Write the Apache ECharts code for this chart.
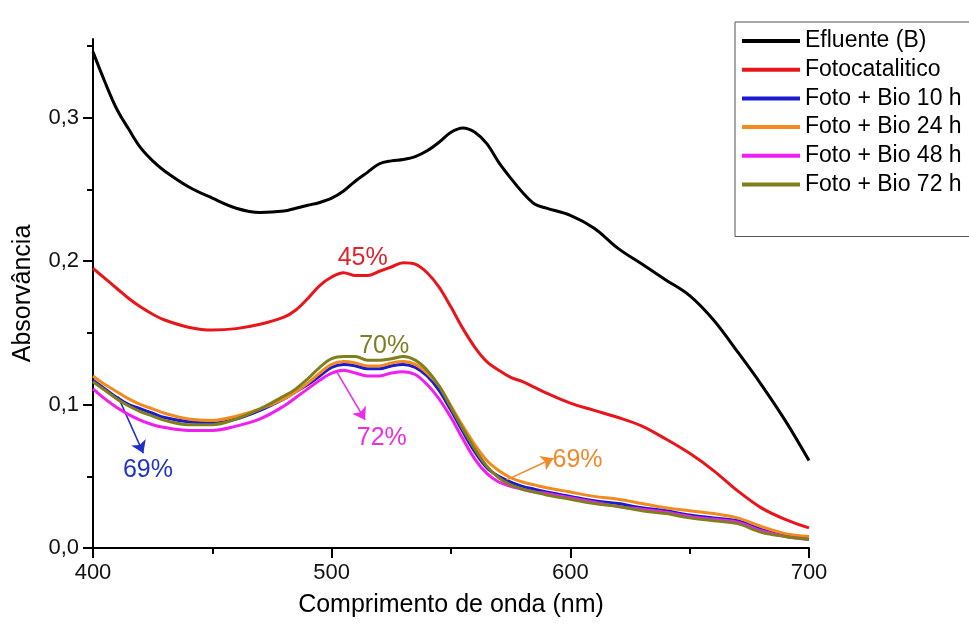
<!DOCTYPE html>
<html><head><meta charset="utf-8">
<script src="https://cdn.jsdelivr.net/npm/echarts@6/dist/echarts.min.js"></script>
<style>html,body{margin:0;padding:0;background:#fff}#c{width:969px;height:625px}</style>
</head><body><div id="c"></div>
<script>
// wavelength (nm)
const wavelengths = [400,405,410,415,420,425,430,440,450,460,470,480,485,490,495,500,505,510,515,520,525,530,535,540,545,550,555,560,565,570,575,580,585,590,600,610,620,630,640,650,660,670,680,690,700];
const efluente = [0.346,0.325,0.306,0.292,0.279,0.270,0.263,0.252,0.244,0.237,0.234,0.235,0.237,0.239,0.241,0.244,0.249,0.256,0.262,0.268,0.270,0.271,0.273,0.277,0.283,0.290,0.293,0.290,0.282,0.269,0.258,0.248,0.240,0.237,0.232,0.223,0.209,0.198,0.187,0.176,0.159,0.137,0.114,0.089,0.061];
const fotocatalitico = [0.195,0.188,0.181,0.174,0.168,0.163,0.159,0.154,0.152,0.153,0.156,0.161,0.166,0.174,0.183,0.189,0.192,0.190,0.190,0.193,0.196,0.199,0.198,0.192,0.182,0.168,0.153,0.140,0.130,0.124,0.119,0.116,0.112,0.108,0.101,0.096,0.091,0.085,0.076,0.066,0.054,0.040,0.028,0.020,0.014];
const bio10 = [0.117,0.111,0.105,0.100,0.097,0.094,0.091,0.088,0.087,0.090,0.096,0.104,0.109,0.114,0.120,0.126,0.128,0.127,0.125,0.125,0.127,0.128,0.126,0.120,0.110,0.096,0.081,0.067,0.056,0.050,0.046,0.043,0.041,0.039,0.036,0.033,0.031,0.028,0.026,0.023,0.021,0.019,0.013,0.009,0.007];
const bio24 = [0.120,0.114,0.109,0.104,0.100,0.097,0.094,0.090,0.089,0.092,0.097,0.104,0.109,0.115,0.122,0.128,0.130,0.129,0.127,0.127,0.129,0.130,0.128,0.122,0.113,0.099,0.085,0.072,0.061,0.054,0.049,0.046,0.044,0.042,0.039,0.036,0.034,0.031,0.028,0.026,0.024,0.021,0.015,0.010,0.008];
const bio48 = [0.111,0.104,0.098,0.093,0.089,0.086,0.084,0.082,0.082,0.085,0.090,0.099,0.105,0.111,0.117,0.122,0.124,0.122,0.120,0.120,0.122,0.123,0.121,0.114,0.104,0.091,0.076,0.062,0.052,0.046,0.043,0.041,0.039,0.038,0.035,0.032,0.029,0.027,0.025,0.022,0.020,0.018,0.012,0.008,0.006];
const bio72 = [0.116,0.110,0.104,0.099,0.095,0.092,0.089,0.086,0.086,0.090,0.097,0.106,0.111,0.118,0.126,0.132,0.1335,0.1335,0.131,0.131,0.132,0.1335,0.131,0.124,0.113,0.098,0.083,0.069,0.057,0.049,0.044,0.041,0.039,0.037,0.034,0.031,0.029,0.026,0.024,0.021,0.019,0.017,0.011,0.008,0.006];

const seriesNames = ['Efluente (B)','Fotocatalitico','Foto + Bio 10 h','Foto + Bio 24 h','Foto + Bio 48 h','Foto + Bio 72 h'];
const xTicks = [400,500,600,700];
const yTicks = [0,0.1,0.2,0.3];
const yMinorTicks = [0.05,0.15,0.25,0.35];

// annotations (data units)
const noteTexts = ['45%','70%','72%','69%','69%'];
const notePoints = [[513,0.2024],[522,0.141],[521,0.0768],[423,0.0544],[603,0.0614]];
const arrowBlue = [[410.5,0.1056],[421.1,0.0661]];
const arrowMagenta = [[502.1,0.123],[514,0.0893]];
const arrowOrange = [[573.3,0.0475],[592.9,0.0626]];

const colors = ['#000000','#e8161b','#1a1ad2','#f28a1e','#f01ef0','#7f7f1d'];
const FONT = 'Liberation Sans, Arial, sans-serif';

function pairs(arr){ return wavelengths.map((w,i)=>[w,arr[i]]); }
function notes(list){
  return {symbol:'circle',symbolSize:0,silent:true,
    data:list.map(([i,color])=>({coord:notePoints[i],
      label:{show:true,position:'inside',formatter:noteTexts[i],color:color,fontSize:25,fontFamily:FONT}}))};
}
function arrow(a,color){
  return {silent:true,symbol:['none','arrow'],symbolSize:12,
    lineStyle:{color:color,width:1.6,type:'solid'},label:{show:false},
    emphasis:{disabled:true},
    data:[[{coord:a[0]},{coord:a[1]}]]};
}
const datasets = [efluente,fotocatalitico,bio10,bio24,bio48,bio72];
const series = datasets.map((d,i)=>({
  name:seriesNames[i], type:'line', data:pairs(d), showSymbol:false, symbol:'none',
  smooth:0.35, lineStyle:{width:3,color:colors[i]}, itemStyle:{color:colors[i]},
  z: 2+i
}));
series[1].markPoint = notes([[0,'#e2212a']]);
series[2].markLine = arrow(arrowBlue,'#1f2fc8');
series[2].markPoint = notes([[3,'#2233c8']]);
series[3].markLine = arrow(arrowOrange,'#f0892a');
series[3].markPoint = notes([[4,'#f0892a']]);
series[4].markLine = arrow(arrowMagenta,'#ea2ee6');
series[4].markPoint = notes([[2,'#ea2ee6']]);
series[5].markPoint = notes([[1,'#7d7d22']]);

const chart = echarts.init(document.getElementById('c'),null,{renderer:'canvas'});
chart.setOption({
  animation:false,
  backgroundColor:'#fff',
  grid:{left:93,right:160,top:39,bottom:77,containLabel:false,outerBoundsMode:'none'},
  legend:{
    orient:'vertical', left:735, top:22,
    data:seriesNames, icon:'rect', itemWidth:58, itemHeight:4, itemGap:4.7,
    padding:[7,60,40,7], borderColor:'#555', borderWidth:1,
    textStyle:{fontSize:23,color:'#000',fontFamily:FONT,lineHeight:24},
    selectedMode:false
  },
  xAxis:{
    type:'value', min:400, max:700, interval:100,
    name:'Comprimento de onda (nm)', nameLocation:'middle', nameGap:45,
    nameTextStyle:{fontSize:25,color:'#000',fontFamily:FONT},
    axisLine:{show:true,onZero:false,lineStyle:{color:'#000',width:2}},
    axisTick:{show:true,length:10,lineStyle:{color:'#000',width:2},customValues:xTicks},
    minorTick:{show:true,splitNumber:2,length:6,lineStyle:{color:'#000',width:2}},
    axisLabel:{fontSize:22,color:'#111',fontFamily:FONT,margin:14,customValues:xTicks},
    splitLine:{show:false}
  },
  yAxis:[{
    type:'value', min:0, max:0.355, position:'left',
    name:'Absorvância', nameLocation:'middle', nameGap:57,
    nameTextStyle:{fontSize:25,color:'#000',fontFamily:FONT},
    axisLine:{show:true,onZero:false,lineStyle:{color:'#000',width:2}},
    axisTick:{show:true,length:10,lineStyle:{color:'#000',width:2},customValues:yTicks},
    axisLabel:{fontSize:22,color:'#111',fontFamily:FONT,margin:14,customValues:yTicks,
      formatter:v=>v.toFixed(1).replace('.',',')},
    splitLine:{show:false}
  },{
    type:'value', min:0, max:0.355, position:'left', offset:0,
    axisLine:{show:false},
    axisTick:{show:true,length:6,lineStyle:{color:'#000',width:2},customValues:yMinorTicks},
    axisLabel:{show:false}, splitLine:{show:false}
  }],
  series:series
});
</script>
</body></html>
